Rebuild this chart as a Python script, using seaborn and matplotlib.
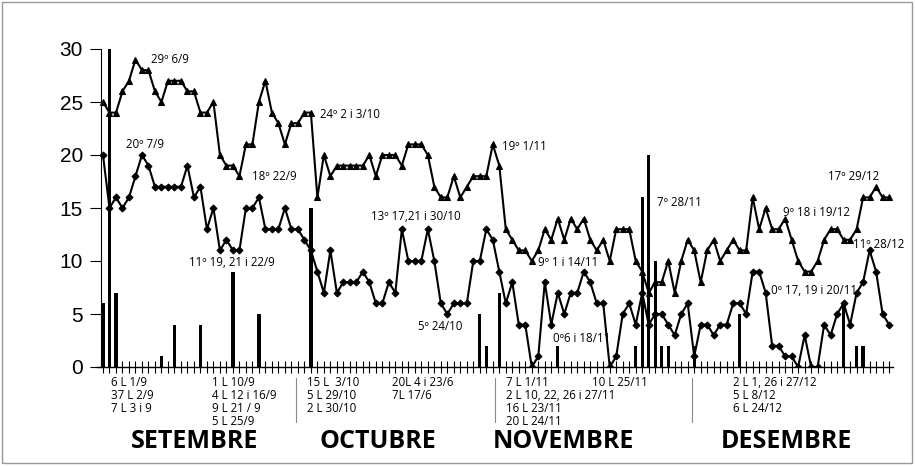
import numpy as np
import pandas as pd
import matplotlib
matplotlib.use("Agg")
import matplotlib.pyplot as plt
from matplotlib.patches import Rectangle
import seaborn as sns

# ---------------- data ----------------
tmax_set = [25, 24, 24, 26, 27, 29, 28, 28, 26, 25, 27, 27, 27, 26, 26, 24, 24, 25, 20, 19,
            19, 18, 21, 21, 25, 27, 24, 23, 21, 23]
tmax_oct = [23, 24, 24, 16, 20, 18, 19, 19, 19, 19, 19, 20, 18, 20, 20, 20, 19, 21, 21, 21,
            20, 17, 16, 16, 18, 16, 17, 18, 18, 18, 21]
tmax_nov = [19, 13, 12, 11, 11, 10, 11, 13, 12, 14, 12, 14, 13, 14, 12, 11, 12, 10, 13, 13,
            13, 10, 9, 7, 8, 8, 10, 7, 10, 12]
tmax_des = [11, 8, 11, 12, 10, 11, 12, 11, 11, 16, 13, 15, 13, 13, 14, 12, 10, 9, 9, 10,
            12, 13, 13, 12, 12, 13, 16, 16, 17, 16, 16]

tmin_set = [20, 15, 16, 15, 16, 18, 20, 19, 17, 17, 17, 17, 17, 19, 16, 17, 13, 15, 11, 12,
            11, 11, 15, 15, 16, 13, 13, 13, 15, 13]
tmin_oct = [13, 12, 11, 9, 7, 11, 7, 8, 8, 8, 9, 8, 6, 6, 8, 7, 13, 10, 10, 10,
            13, 10, 6, 5, 6, 6, 6, 10, 10, 13, 12]
tmin_nov = [9, 6, 8, 4, 4, 0, 1, 8, 4, 7, 5, 7, 7, 9, 8, 6, 6, 0, 1, 5,
            6, 4, 7, 4, 5, 5, 4, 3, 5, 6]
tmin_des = [1, 4, 4, 3, 4, 4, 6, 6, 5, 9, 9, 7, 2, 2, 1, 1, 0, 3, 0, 0,
            4, 3, 5, 6, 4, 7, 8, 11, 9, 5, 4]

# precipitation (litres): month, day, value
pluja_mes = [9, 9, 9, 9, 9, 9, 9, 9, 10, 10, 10, 11, 11, 11, 11, 11, 11, 11, 11, 12, 12, 12, 12, 12]
pluja_dia = [1, 2, 3, 10, 12, 16, 21, 25, 3, 29, 30, 1, 10, 22, 23, 24, 25, 26, 27, 1, 8, 24, 26, 27]
pluja_val = [6, 37, 7, 1, 4, 4, 9, 5, 15, 5, 2, 7, 2, 2, 16, 20, 10, 2, 2, 2, 5, 6, 2, 2]

mesos = ["SETEMBRE", "OCTUBRE", "NOVEMBRE", "DESEMBRE"]
y_ticks = [0, 5, 10, 15, 20, 25, 30]

# ---------------- build frame ----------------
tmax = tmax_set + tmax_oct + tmax_nov + tmax_des
tmin = tmin_set + tmin_oct + tmin_nov + tmin_des
n = len(tmax)
offset = {9: 0, 10: 30, 11: 61, 12: 91}
pluja = np.zeros(n)
for m, d, v in zip(pluja_mes, pluja_dia, pluja_val):
    pluja[offset[m] + d - 1] = v
df = pd.DataFrame({"dia": np.arange(n), "tmax": tmax, "tmin": tmin, "pluja": pluja})

# ---------------- figure ----------------
sns.set_theme(style="white")
plt.rcParams['font.family'] = ['Open Sans', 'DejaVu Sans']

W, H = 915, 466
fig = plt.figure(figsize=(W / 100, H / 100), dpi=100)
fig.patch.set_facecolor("white")


def fx(px):
    return px / W


def fy(py):
    return 1 - py / H


ax = fig.add_axes([fx(97), fy(367), (893 - 97) / W, (367 - 49) / H])
ax.set_facecolor("white")

sns.barplot(data=df, x="dia", y="pluja", native_scale=True, color="black",
            saturation=1, width=0.5, linewidth=0, errorbar=None, ax=ax)
sns.lineplot(data=df, x="dia", y="tmax", ax=ax, color="black", linewidth=1.5,
             marker="^", markersize=5, markeredgecolor="black", markeredgewidth=0.8)
sns.lineplot(data=df, x="dia", y="tmin", ax=ax, color="black", linewidth=1.5,
             marker="D", markersize=3.5, markeredgecolor="black", markeredgewidth=0.8)

ax.set_xlim(-0.92, 121.6)
ax.set_ylim(0, 30)
ax.set_xlabel("")
ax.set_ylabel("")

for s in ["top", "right"]:
    ax.spines[s].set_visible(False)
ax.spines["left"].set_position(("data", -0.31))
ax.spines["left"].set_color("black")
ax.spines["left"].set_linewidth(0.8)
ax.spines["bottom"].set_color("black")
ax.spines["bottom"].set_linewidth(1.0)

ax.set_yticks(y_ticks)
ax.set_yticklabels([str(t) for t in y_ticks], family=["Liberation Sans", "DejaVu Sans"])
ax.set_xticks(np.arange(n))
ax.set_xticklabels([])
ax.tick_params(axis="y", left=True, direction="out", length=8, width=0.8,
               labelsize=15, pad=5, colors="black")
ax.tick_params(axis="x", bottom=True, direction="inout", length=8, width=0.8, colors="black")

# ---------------- temperature notes ----------------
fs_note = 8.3
notes = [
    (151, 60, "29º 6/9"),
    (126, 145, "20º 7/9"),
    (252, 176, "18º 22/9"),
    (189, 263, "11º 19, 21 i 22/9"),
    (320, 114, "24º 2 i 3/10"),
    (371, 216, "13º 17,21 i 30/10"),
    (418, 326, "5º 24/10"),
    (502, 146, "19º 1/11"),
    (538, 263, "9º 1 i 14/11"),
    (553, 339, "0º6 i 18/11"),
    (657, 203, "7º 28/11"),
    (783, 212, "9º 18 i 19/12"),
    (828, 177, "17º 29/12"),
    (853, 244, "11º 28/12"),
    (771, 290, "0º 17, 19 i 20/11"),
]
for px, py, t in notes:
    fig.text(fx(px), fy(py), t, fontsize=fs_note, ha="left", va="center", color="black")

# ---------------- rain notes below axis ----------------
rain_cols = [
    (111, ["6 L 1/9", "37 L 2/9", "7 L 3 i 9"]),
    (212, ["1 L 10/9", "4 L 12 i 16/9", "9 L 21 / 9", "5 L 25/9"]),
    (307, ["15 L  3/10", "5 L 29/10", "2 L 30/10"]),
    (392, ["20L 4 i 23/6", "7L 17/6"]),
    (506, ["7 L 1/11", "2 L 10, 22, 26 i 27/11", "16 L 23/11", "20 L 24/11"]),
    (592, ["10 L 25/11"]),
    (733, ["2 L 1, 26 i 27/12", "5 L 8/12", "6 L 24/12"]),
]
for px, lines in rain_cols:
    for k, t in enumerate(lines):
        fig.text(fx(px), fy(382 + 13.2 * k), t, fontsize=fs_note, ha="left",
                 va="center", color="black")

for px in [296, 495, 692]:
    fig.add_artist(plt.Line2D([fx(px), fx(px)], [fy(378), fy(422)],
                              transform=fig.transFigure, color="#888888", lw=0.8))

month_x = [195, 378, 563, 786]
for px, m in zip(month_x, mesos):
    fig.text(fx(px), fy(442), m, fontsize=18, fontweight="bold", ha="center",
             va="center", color="black")

# figure border
fig.add_artist(Rectangle((fx(2), fy(463)), (912 - 2) / W, (463 - 2) / H,
                         transform=fig.transFigure, fill=False,
                         edgecolor="#999999", lw=1))

fig.savefig("out.png", dpi=100, facecolor="white")
